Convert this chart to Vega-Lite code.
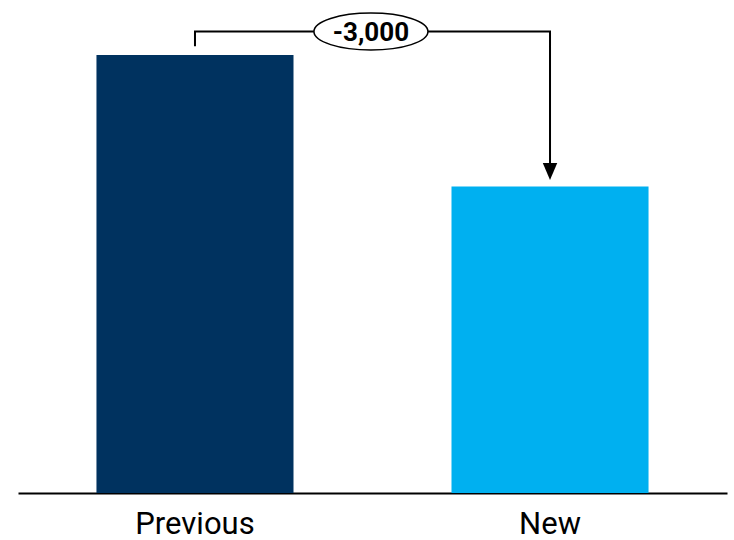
{
  "$schema": "https://vega.github.io/schema/vega-lite/v6.json",
  "width": 709,
  "height": 493,
  "autosize": {"type": "none"},
  "padding": {"left": 18, "top": 0, "right": 7, "bottom": 47},
  "background": "white",
  "config": {
    "view": {"stroke": null},
    "font": "Roboto"
  },
  "datasets": {
    "bars": [
      {"cat": "Previous", "value": 10000},
      {"cat": "New", "value": 7000}
    ],
    "bracket": [
      {"cat": "Previous", "v": 10200, "ord": 1},
      {"cat": "Previous", "v": 10536, "ord": 2},
      {"cat": "New", "v": 10536, "ord": 3},
      {"cat": "New", "v": 7340, "ord": 4}
    ],
    "arrow": [
      {"cat": "New", "v": 7340}
    ],
    "delta": [
      {"cat": "Previous", "v": 10536, "change": -3000, "label": "-3,000"}
    ]
  },
  "encoding": {
    "x": {
      "field": "cat",
      "type": "nominal",
      "sort": ["Previous", "New"],
      "scale": {"paddingInner": 0.445, "paddingOuter": 0.221},
      "axis": {
        "title": null,
        "labelAngle": 0,
        "ticks": false,
        "domainColor": "black",
        "domainWidth": 2,
        "labelFontSize": 31,
        "labelColor": "black",
        "labelPadding": 16,
        "labelFont": "Roboto"
      }
    }
  },
  "layer": [
    {
      "data": {"name": "bars"},
      "mark": {"type": "bar"},
      "encoding": {
        "y": {"field": "value", "type": "quantitative", "scale": {"domain": [0, 11256], "nice": false}, "axis": null},
        "color": {
          "field": "cat",
          "type": "nominal",
          "scale": {"domain": ["Previous", "New"], "range": ["#00325F", "#00B0F0"]},
          "legend": null
        }
      }
    },
    {
      "data": {"name": "bracket"},
      "mark": {"type": "line", "color": "black", "strokeWidth": 2, "strokeJoin": "miter"},
      "encoding": {
        "y": {"field": "v", "type": "quantitative"},
        "order": {"field": "ord", "type": "quantitative"}
      }
    },
    {
      "data": {"name": "arrow"},
      "mark": {"type": "point", "shape": "M-0.85,-1L0.85,-1L0,1Z", "size": 289, "filled": true, "color": "black", "opacity": 1},
      "encoding": {
        "y": {"field": "v", "type": "quantitative"}
      }
    },
    {
      "data": {"name": "delta"},
      "mark": {"type": "point", "shape": "M-1,0A1,0.325,0,1,1,1,0A1,0.325,0,1,1,-1,0Z", "size": 12996, "filled": false, "fill": "white", "fillOpacity": 1, "stroke": "black", "strokeWidth": 1.5, "opacity": 1},
      "encoding": {
        "x": {"field": "cat", "type": "nominal", "bandPosition": 1.393},
        "y": {"field": "v", "type": "quantitative"}
      }
    },
    {
      "data": {"name": "delta"},
      "mark": {"type": "text", "fontSize": 26, "fontWeight": "bold", "font": "Roboto", "color": "black", "baseline": "middle", "align": "center", "dy": 1},
      "encoding": {
        "x": {"field": "cat", "type": "nominal", "bandPosition": 1.393},
        "y": {"field": "v", "type": "quantitative"},
        "text": {"field": "label", "type": "nominal"}
      }
    }
  ]
}
